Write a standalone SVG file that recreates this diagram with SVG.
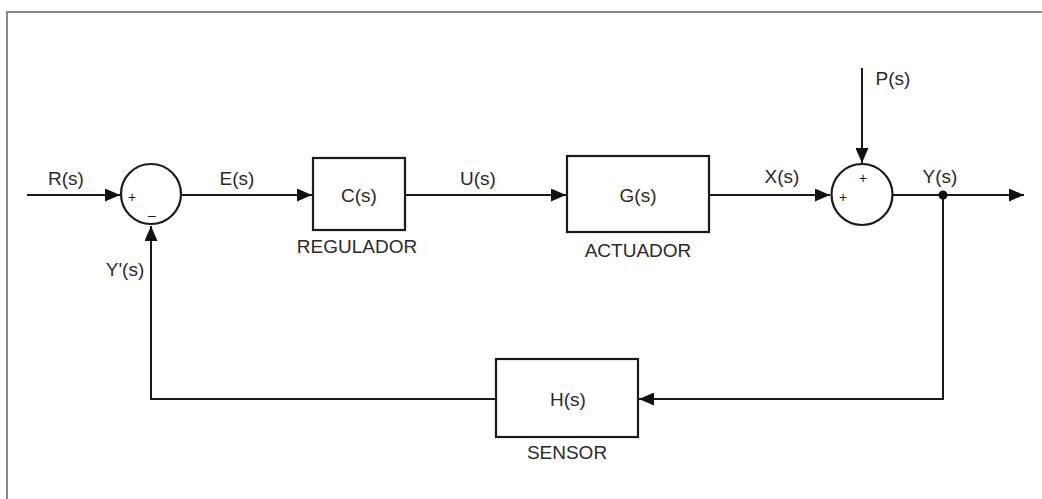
<svg xmlns="http://www.w3.org/2000/svg" width="1042" height="499" viewBox="0 0 1042 499">
<style>
.ln{fill:none;stroke:#1a1a1a;stroke-width:2}
.bx{fill:#fff;stroke:#1a1a1a;stroke-width:2.2}
.t{font-family:"Liberation Sans",Arial,sans-serif;font-size:19px;fill:#2a2a2a;text-anchor:middle}
.s{font-family:"Liberation Sans",Arial,sans-serif;font-size:14px;fill:#1a1a1a;text-anchor:middle}
</style>
<defs>
<marker id="ah" viewBox="0 0 15 13" refX="15" refY="6.5" markerWidth="15" markerHeight="13" markerUnits="userSpaceOnUse" orient="auto">
<path d="M0,0 L15,6.5 L0,13 Z" fill="#111"/>
</marker>
</defs>
<rect width="1042" height="499" fill="#fff"/>
<g id="frame">
<line x1="7" y1="12" x2="1042" y2="12" stroke="#888" stroke-width="2"/>
<line x1="7" y1="11" x2="7" y2="499" stroke="#888" stroke-width="2"/>
</g>
<g id="connectors">
<line class="ln" x1="27" y1="195" x2="120" y2="195" marker-end="url(#ah)"/>
<line class="ln" x1="182" y1="195" x2="312" y2="195" marker-end="url(#ah)"/>
<line class="ln" x1="405" y1="195" x2="566" y2="195" marker-end="url(#ah)"/>
<line class="ln" x1="709" y1="195" x2="830" y2="195" marker-end="url(#ah)"/>
<line class="ln" x1="862" y1="68" x2="862" y2="163" marker-end="url(#ah)"/>
<line class="ln" x1="893" y1="195" x2="1024" y2="195" marker-end="url(#ah)"/>
<polyline class="ln" points="943,195 943,399 639,399" marker-end="url(#ah)"/>
<polyline class="ln" points="496,399 151,399 151,226" marker-end="url(#ah)"/>
<circle cx="943" cy="195" r="4.5" fill="#111"/>
<text class="t" x="66" y="185">R(s)</text>
<text class="t" x="237" y="185">E(s)</text>
<text class="t" x="478" y="185">U(s)</text>
<text class="t" x="782" y="183">X(s)</text>
<text class="t" x="893" y="85">P(s)</text>
<text class="t" x="940" y="183">Y(s)</text>
<text class="t" x="125" y="276">Y'(s)</text>
</g>
<g id="sum1">
<circle class="bx" cx="151" cy="194" r="30"/>
<text class="s" x="132" y="202">+</text>
<text class="s" x="152" y="220">–</text>
</g>
<g id="regulador">
<rect class="bx" x="313" y="158" width="92" height="72"/>
<text class="t" x="359" y="202">C(s)</text>
<text class="t" x="357" y="253">REGULADOR</text>
</g>
<g id="actuador">
<rect class="bx" x="567" y="156" width="142" height="76"/>
<text class="t" x="638" y="202">G(s)</text>
<text class="t" x="638" y="257">ACTUADOR</text>
</g>
<g id="sum2">
<circle class="bx" cx="862" cy="194.5" r="30.5"/>
<text class="s" x="863" y="183">+</text>
<text class="s" x="843" y="202">+</text>
</g>
<g id="sensor">
<rect class="bx" x="496" y="359" width="142" height="78"/>
<text class="t" x="568" y="406">H(s)</text>
<text class="t" x="567" y="459">SENSOR</text>
</g>
</svg>
